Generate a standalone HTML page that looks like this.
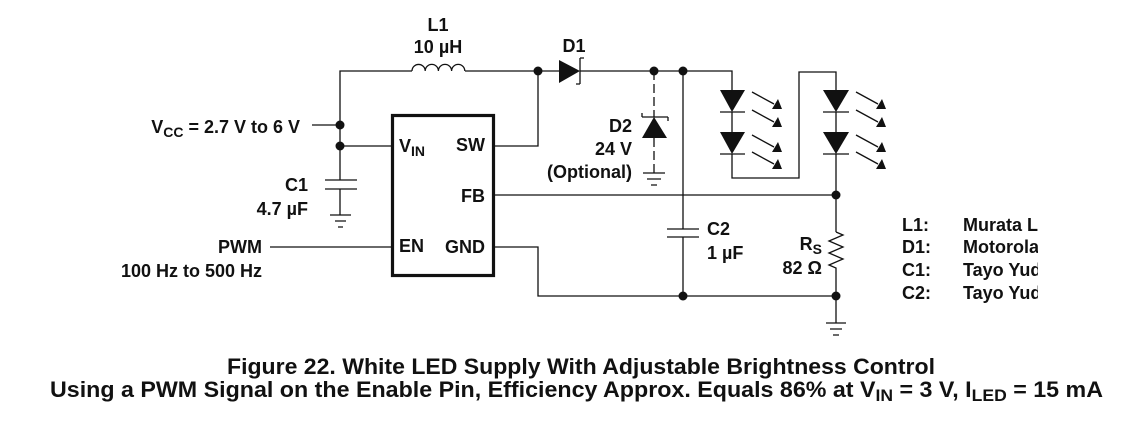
<!DOCTYPE html>
<html><head><meta charset="utf-8"><style>
html,body{margin:0;padding:0;background:#fff;width:1127px;height:425px;overflow:hidden}
svg{display:block}
text{font-family:"Liberation Sans",Arial,sans-serif;font-weight:bold;fill:#111;font-size:18px}
.s{font-size:14px}
.cap{font-size:22.5px}
.caps{font-size:17px}
</style></head><body>
<svg width="1127" height="425" viewBox="0 0 1127 425" xmlns="http://www.w3.org/2000/svg">
<g stroke="#111" stroke-width="1.3" fill="none">
<path d="M340 125 V71 H412"/>
<path d="M412 71 a6.6 6.6 0 0 1 13.2 0 a6.6 6.6 0 0 1 13.2 0 a6.6 6.6 0 0 1 13.2 0 a6.6 6.6 0 0 1 13.2 0"/>
<path d="M465 71 H559 M580 71 H732 V90"/>
<path d="M312 125 H340 V180 M340 146 H391"/>
<path d="M325 180 H357 M325 189 H357 M340 189 V215"/>
<path d="M330 215 H351 M335 221 H346 M338 227 H343"/>
<path d="M495 146 H538 V71"/>
<path d="M495 195 H836"/>
<path d="M270 247 H391"/>
<path d="M495 247 H538 V296 H836"/>
<path d="M580 58 V84 M580 58 H584 M580 84 H576"/>
<path d="M654 71 V117 M654 138 V173" stroke-dasharray="9,4"/>
<path d="M642 117 H668 M642 117 V113 M668 117 V121"/>
<path d="M643 173 H665 M647 179 H661 M651 185 H657"/>
<path d="M683 71 V229 M683 237 V296 M667 229 H699 M667 237 H699"/>
<path d="M720 112 H745 M720 154 H745 M732 112 V132 M732 154 V178 H799 V72 H836 V90"/>
<path d="M823 112 H849 M823 154 H849 M836 112 V132 M836 154 V232"/>
<path d="M836 232 L843 235 L829 241 L843 247 L829 253 L843 259 L829 265 L836 268 V323"/>
<path d="M826 323 H846 M830 329 H842 M833 335 H839"/>
<path d="M752 92 L774 104 M752 110 L774 122 M752 135 L774 147 M752 152 L774 164"/>
<path d="M856 92 L878 104 M856 110 L878 122 M856 135 L878 147 M856 152 L878 164"/>
<rect x="392.5" y="115.5" width="101" height="160" stroke-width="3.2"/>
</g>
<g fill="#111">
<circle cx="340" cy="125" r="4.5"/><circle cx="340" cy="146" r="4.5"/>
<circle cx="538" cy="71" r="4.5"/><circle cx="654" cy="71" r="4.5"/><circle cx="683" cy="71" r="4.5"/>
<circle cx="683" cy="296" r="4.5"/><circle cx="836" cy="296" r="4.5"/><circle cx="836" cy="195" r="4.5"/>
<polygon points="559,60 580,71 559,83"/>
<polygon points="654,117 642,138 667,138"/>
<polygon points="720,90 745,90 732,112"/><polygon points="720,132 745,132 732,154"/>
<polygon points="823,90 849,90 836,112"/><polygon points="823,132 849,132 836,154"/>
<polygon points="778,99 782,109 772,109"/><polygon points="778,117 782,127 772,127"/>
<polygon points="778,142 782,152 772,152"/><polygon points="778,159 782,169 772,169"/>
<polygon points="882,99 886,109 876,109"/><polygon points="882,117 886,127 876,127"/>
<polygon points="882,142 886,152 876,152"/><polygon points="882,159 886,169 876,169"/>
</g>
<text x="438" y="31" text-anchor="middle">L1</text>
<text x="438" y="53" text-anchor="middle">10 µH</text>
<text x="574" y="52" text-anchor="middle">D1</text>
<text x="632" y="132" text-anchor="end">D2</text>
<text x="632" y="155" text-anchor="end">24 V</text>
<text x="632" y="178" text-anchor="end">(Optional)</text>
<text x="300" y="133" text-anchor="end">V<tspan class="s" dy="4">CC</tspan><tspan dy="-4"> = 2.7 V to 6 V</tspan></text>
<text x="308" y="191" text-anchor="end">C1</text>
<text x="308" y="215" text-anchor="end">4.7 µF</text>
<text x="262" y="253" text-anchor="end">PWM</text>
<text x="262" y="277" text-anchor="end">100 Hz to 500 Hz</text>
<text x="399" y="152">V<tspan class="s" dy="4">IN</tspan></text>
<text x="485" y="151" text-anchor="end">SW</text>
<text x="485" y="202" text-anchor="end">FB</text>
<text x="399" y="252">EN</text>
<text x="485" y="253" text-anchor="end">GND</text>
<text x="707" y="235">C2</text>
<text x="707" y="259">1 µF</text>
<text x="822" y="250" text-anchor="end">R<tspan class="s" dy="4">S</tspan></text>
<text x="822" y="274" text-anchor="end">82 Ω</text>
<text x="902" y="231">L1:</text><text x="963" y="231">Murata L</text>
<text x="902" y="253">D1:</text><text x="963" y="253">Motorola</text>
<text x="902" y="276">C1:</text><text x="963" y="276">Tayo Yud</text>
<text x="902" y="299">C2:</text><text x="963" y="299">Tayo Yud</text>
<rect x="1038" y="210" width="89" height="100" fill="#fff"/>
<text class="cap" x="227" y="374" textLength="708" lengthAdjust="spacingAndGlyphs">Figure 22. White LED Supply With Adjustable Brightness Control</text>
<text class="cap" x="50" y="397" textLength="1053" lengthAdjust="spacingAndGlyphs">Using a PWM Signal on the Enable Pin, Efficiency Approx. Equals 86% at V<tspan class="caps" dy="4">IN</tspan><tspan dy="-4"> = 3 V, I</tspan><tspan class="caps" dy="4">LED</tspan><tspan dy="-4"> = 15 mA</tspan></text>
</svg>
</body></html>
